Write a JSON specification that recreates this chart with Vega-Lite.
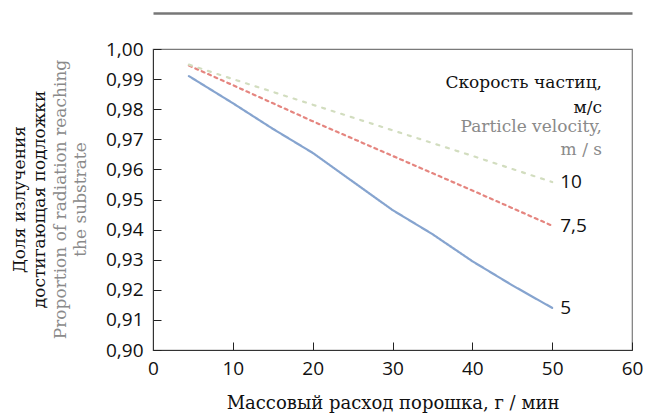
{
  "$schema": "https://vega.github.io/schema/vega-lite/v6.json",
  "width": 479,
  "height": 301,
  "autosize": "none",
  "padding": {"left": 153, "top": 49, "right": 22, "bottom": 64},
  "background": "white",
  "config": {
    "view": {"stroke": "#7a7a7a", "strokeWidth": 1.2},
    "axis": {"grid": false}
  },
  "title": {
    "text": ["Скорость частиц,", "м/с"],
    "subtitle": ["Particle velocity,", "m / s"],
    "anchor": "end",
    "frame": "group",
    "orient": "top",
    "dx": -30,
    "dy": 150,
    "font": "DejaVu Serif",
    "fontSize": 17,
    "fontWeight": "normal",
    "color": "#111111",
    "lineHeight": 25,
    "subtitleFont": "DejaVu Serif",
    "subtitleFontSize": 17,
    "subtitleColor": "#8a8a8a",
    "subtitleLineHeight": 23,
    "subtitlePadding": 2
  },
  "data": {
    "values": [
      {"series": "5", "x": 4.5, "y": 0.991},
      {"series": "5", "x": 10, "y": 0.982},
      {"series": "5", "x": 15, "y": 0.9735},
      {"series": "5", "x": 20, "y": 0.9655},
      {"series": "5", "x": 25, "y": 0.956},
      {"series": "5", "x": 30, "y": 0.9465},
      {"series": "5", "x": 35, "y": 0.9385},
      {"series": "5", "x": 40, "y": 0.9295},
      {"series": "5", "x": 45, "y": 0.9215},
      {"series": "5", "x": 50, "y": 0.914},
      {"series": "7,5", "x": 4.5, "y": 0.9945},
      {"series": "7,5", "x": 10, "y": 0.988},
      {"series": "7,5", "x": 20, "y": 0.976},
      {"series": "7,5", "x": 30, "y": 0.9645},
      {"series": "7,5", "x": 40, "y": 0.953},
      {"series": "7,5", "x": 50, "y": 0.9413},
      {"series": "10", "x": 4.5, "y": 0.9948},
      {"series": "10", "x": 10, "y": 0.99},
      {"series": "10", "x": 20, "y": 0.9815},
      {"series": "10", "x": 30, "y": 0.973},
      {"series": "10", "x": 40, "y": 0.9645},
      {"series": "10", "x": 50, "y": 0.9558}
    ]
  },
  "layer": [
    {
      "mark": {"type": "line", "strokeWidth": 2.2, "strokeCap": "round"},
      "encoding": {
        "x": {
          "field": "x", "type": "quantitative",
          "scale": {"domain": [0, 60], "nice": false, "zero": false},
          "axis": {
            "orient": "bottom",
            "values": [0, 10, 20, 30, 40, 50, 60],
            "title": "Массовый расход порошка, г / мин",
            "titleFont": "DejaVu Serif", "titleFontSize": 18, "titleFontWeight": "normal",
            "titleColor": "#111111", "titlePadding": 16,
            "labelFont": "Open Sans", "labelFontSize": 19, "labelColor": "#111111",
            "labelPadding": 17,
            "tickSize": -8, "tickColor": "#222222", "domainColor": "#333333",
            "labelFlush": false
          }
        },
        "y": {
          "field": "y", "type": "quantitative",
          "scale": {"domain": [0.9, 1.0], "nice": false, "zero": false},
          "axis": {
            "orient": "left",
            "values": [0.9, 0.91, 0.92, 0.93, 0.94, 0.95, 0.96, 0.97, 0.98, 0.99, 1.0],
            "labelExpr": "replace(format(datum.value, '.2f'), '.', ',')",
            "labelFont": "Open Sans", "labelFontSize": 19, "labelColor": "#111111",
            "labelPadding": 18,
            "tickSize": -8, "tickColor": "#222222", "domainColor": "#333333",
            "labelFlush": false,
            "title": ["Proportion of radiation reaching", "the substrate"],
            "titleFont": "DejaVu Serif", "titleFontSize": 17, "titleFontWeight": "normal",
            "titleColor": "#8a8a8a", "titleLineHeight": 20,
            "titleAngle": -90, "titleAlign": "center", "titleBaseline": "top",
            "titleX": -101, "titleY": 150
          }
        },
        "color": {
          "field": "series", "type": "nominal", "legend": null,
          "scale": {"domain": ["5", "7,5", "10"], "range": ["#86a4cf", "#e5857f", "#d2ddbf"]}
        },
        "strokeDash": {
          "field": "series", "type": "nominal", "legend": null,
          "scale": {"domain": ["5", "7,5", "10"], "range": [[1, 0], [3, 4], [3, 7]]}
        }
      }
    },
    {
      "transform": [{"filter": "datum.x == 50"}],
      "mark": {"type": "text", "align": "left", "baseline": "middle", "dx": 8, "font": "Open Sans", "fontSize": 19, "color": "#111111"},
      "encoding": {
        "x": {
          "field": "x", "type": "quantitative",
          "axis": {
            "orient": "top", "offset": 36,
            "labels": false, "ticks": false, "title": null,
            "domainColor": "#777777", "domainWidth": 2.5
          }
        },
        "y": {
          "field": "y", "type": "quantitative",
          "axis": {
            "orient": "left",
            "labels": false, "ticks": false, "domain": false,
            "title": ["Доля излучения", "достигающая подложки"],
            "titleFont": "DejaVu Serif", "titleFontSize": 17, "titleFontWeight": "normal",
            "titleColor": "#111111", "titleLineHeight": 20,
            "titleAngle": -90, "titleAlign": "center", "titleBaseline": "top",
            "titleX": -142, "titleY": 150
          }
        },
        "text": {"field": "series"}
      }
    }
  ],
  "resolve": {"axis": {"y": "independent", "x": "independent"}}
}
